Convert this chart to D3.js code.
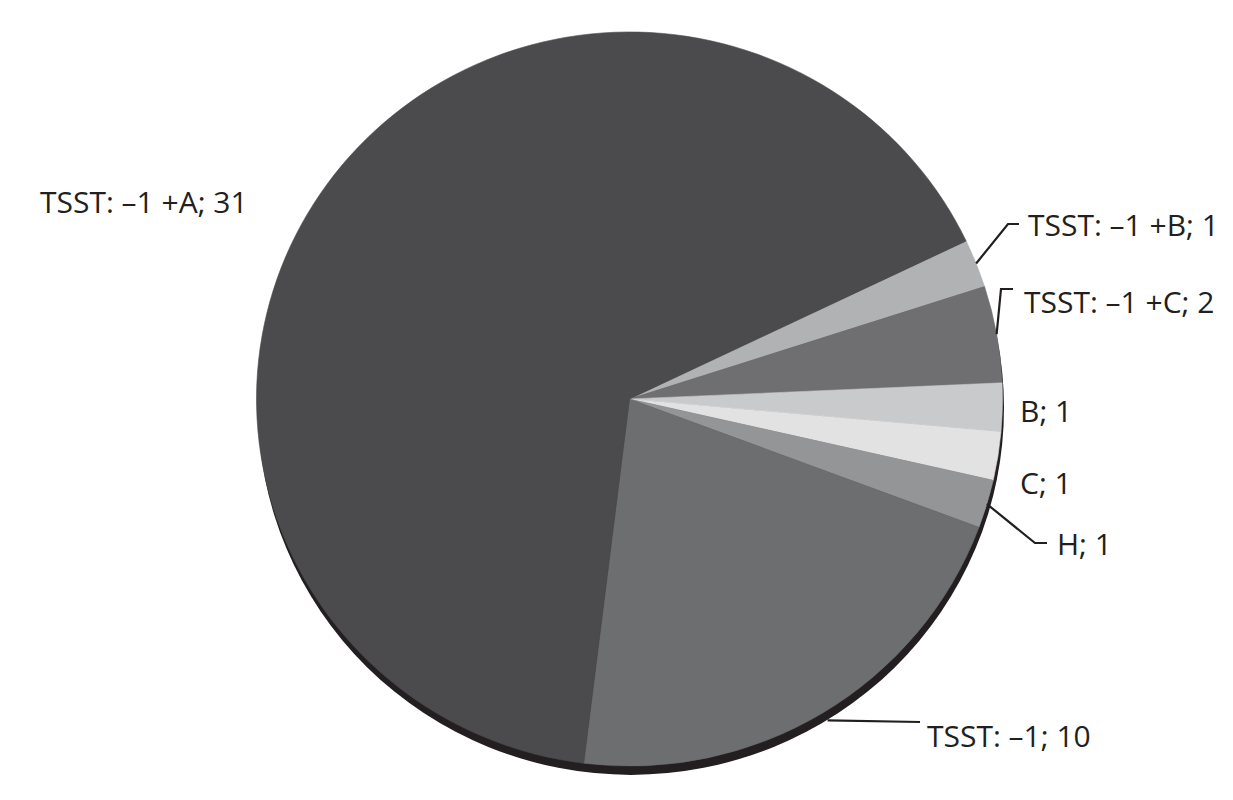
<!DOCTYPE html>
<html>
<head>
<meta charset="utf-8">
<script src="https://cdn.jsdelivr.net/npm/d3@7"></script>
<style>
  body { margin: 0; background: #fff; }
  text { font-family: "Open Sans", "Noto Sans", sans-serif; fill: #231f20; }
</style>
</head>
<body>
<script>
const width = 1233;
const height = 800;

// slices, clockwise starting from the thin light wedge at upper right
const categories = ["TSST-1 +B", "TSST-1 +C", "B", "C", "H", "TSST-1", "TSST-1 +A"];
const counts = [1, 2, 1, 1, 1, 10, 31];
const labels = ["TSST: \u20131 +B; 1", "TSST: \u20131 +C; 2", "B; 1", "C; 1", "H; 1", "TSST: \u20131; 10", "TSST: \u20131 +A; 31"];
const colors = ["#b1b2b4", "#6f6f72", "#c9cacc", "#e2e2e3", "#949597", "#6d6e70", "#4b4a4c"];

// where each label sits (baseline) and its leader elbow, null = no leader
const labelLayout = [
    {x: 1028, y: 236, elbow: [1008, 224], end: 1019},
    {x: 1024, y: 313, elbow: [1001, 289], end: 1013},
    {x: 1020, y: 422, elbow: null},
    {x: 1020, y: 494, elbow: null},
    {x: 1057, y: 555, elbow: [1035, 543], end: 1047},
    {x: 927, y: 747, elbow: [920, 722], end: 920},
    {x: 40, y: 213, elbow: null}
];

const cx = 629.5, cy = 399, r = 373, sy = 0.984;
const startDeg = 64.5;

const svg = d3.select('body').append('svg')
    .attr("width", width)
    .attr("height", height);

const pie = d3.pie()
    .sort(null)
    .value(d => d)
    .startAngle(startDeg * Math.PI / 180)
    .endAngle((startDeg + 360) * Math.PI / 180);

const arcs = pie(counts);

const arc = d3.arc()
    .innerRadius(0)
    .outerRadius(r);

const g = svg.append("g")
    .attr("transform", `translate(${cx},${cy}) scale(1,${sy})`);

// dark rim under the pie, gives the slight 3d look
g.append("circle")
    .attr("cx", 1.5)
    .attr("cy", 9)
    .attr("r", r)
    .style("fill", "#231f20");

g.selectAll("path.slice")
    .data(arcs)
    .enter()
    .append("path")
    .attr("class", "slice")
    .attr("d", arc)
    .style("fill", (d, i) => colors[i])
    .style("stroke", (d, i) => colors[i])
    .style("stroke-width", 0.6)
    .append("title")
    .text((d, i) => `${categories[i]}: ${counts[i]}`);

// leader lines
function rimPoint(d, extra) {
    const a = (d.startAngle + d.endAngle) / 2;
    return [cx + (r + extra) * Math.sin(a), cy - (r + extra) * Math.cos(a) * sy];
}

const leaders = arcs.map((d, i) => ({d: d, l: labelLayout[i]})).filter(o => o.l.elbow);

svg.append("g")
    .selectAll("path")
    .data(leaders)
    .enter()
    .append("path")
    .attr("d", o => {
        const p = rimPoint(o.d, o.d.index === 5 ? 9 : 0);
        const line = d3.line();
        return line([p, o.l.elbow, [o.l.end, o.l.elbow[1]]]);
    })
    .style("fill", "none")
    .style("stroke", "#231f20")
    .style("stroke-width", 2.2);

svg.append("g")
    .selectAll("text")
    .data(labels)
    .enter()
    .append("text")
    .attr("x", (d, i) => labelLayout[i].x)
    .attr("y", (d, i) => labelLayout[i].y)
    .style("font-size", "30px")
    .text(d => d);
</script>
</body>
</html>
